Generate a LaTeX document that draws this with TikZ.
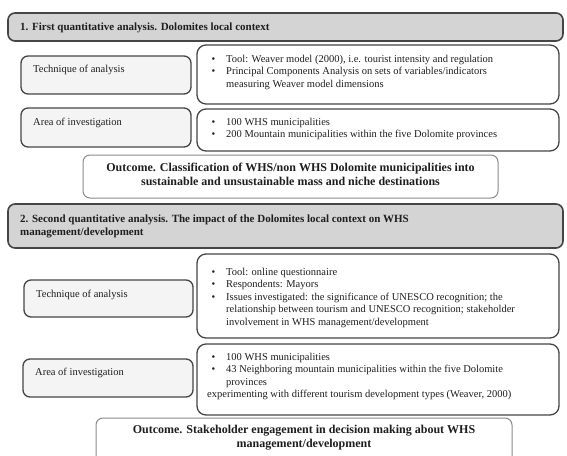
\documentclass[tikz,border=0pt]{standalone}
\usepackage{fontspec}
\setmainfont{Liberation Serif}
\usepackage{array}
\definecolor{hdrfill}{HTML}{D4D4D4}
\definecolor{lfill}{HTML}{F4F4F4}
\definecolor{bord}{HTML}{454545}
\definecolor{obord}{HTML}{8A8A8A}
\definecolor{txt}{HTML}{1E1E1E}
\newcommand{\bodyfont}{\fontsize{10.5}{12.5}\selectfont}
\newcommand{\hdrfont}{\fontsize{11}{13}\selectfont\bfseries}
\newcommand{\outfont}{\fontsize{12}{14}\selectfont\bfseries}
\newcommand{\bul}{\hspace*{4.5pt}\textbullet}
\tikzset{
  hdrbox/.style={draw=bord, line width=1.6pt, fill=hdrfill, rounded corners=7pt, inner sep=0pt},
  leftbox/.style={draw=bord, line width=1.3pt, fill=lfill, rounded corners=7pt, inner sep=0pt},
  rightbox/.style={draw=bord, line width=1.3pt, fill=white, rounded corners=9pt, inner sep=0pt},
  outbox/.style={draw=obord, line width=1pt, fill=white, rounded corners=7pt, inner sep=0pt},
  lbl/.style={inner sep=0pt, text=txt, font=\bodyfont},
  hdr/.style={inner sep=0pt, text=txt, font=\hdrfont, align=left},
  lst/.style={inner sep=0pt, text=txt, font=\bodyfont, anchor=north west},
  outtxt/.style={inner sep=0pt, text=txt, font=\outfont, align=center},
}
\begin{document}
\begin{tikzpicture}[x=1pt, y=-1pt]
\useasboundingbox (0,0) rectangle (567,455);
\clip (0,0) rectangle (567,455);
% ---------- section 1
\node[hdrbox, minimum width=555pt, minimum height=28pt] (h1) at (285.5,27) {};
\node[hdr, anchor=base west] (h1t) at (20,30.5) {1. First quantitative analysis. Dolomites local context};

\node[leftbox, minimum width=170pt, minimum height=38pt] (t1) at (106,75) {};
\node[lbl, anchor=base west] (t1t) at (33,72) {Technique of analysis};
\node[rightbox, minimum width=362pt, minimum height=59pt] (r1) at (378,74.5) {};
\node[lst] (r1t) at (207,53.25) {\begin{tabular}{@{}p{19pt}@{}l@{}}
\bul & Tool: Weaver model (2000), i.e. tourist intensity and regulation\\
\bul & Principal Components Analysis on sets of variables/indicators\\
 & measuring Weaver model dimensions
\end{tabular}};

\node[leftbox, minimum width=170pt, minimum height=39pt] (a1) at (106,127.5) {};
\node[lbl, anchor=base west] (a1t) at (33,125) {Area of investigation};
\node[rightbox, minimum width=362pt, minimum height=42pt] (r2) at (378,130) {};
\node[lst] (r2t) at (207,116.5) {\begin{tabular}{@{}p{19pt}@{}l@{}}
\bul & 100 WHS municipalities\\
\bul & 200 Mountain municipalities within the five Dolomite provinces
\end{tabular}};

\node[outbox, minimum width=415pt, minimum height=43pt] (o1) at (290.5,176.5) {};
\node[outtxt, anchor=base] (o1t) at (290.5,171) {Outcome. Classification of WHS/non WHS Dolomite municipalities into};
\node[outtxt, anchor=base] (o1t2) at (290.5,185) {sustainable and unsustainable mass and niche destinations};

% ---------- section 2
\node[hdrbox, minimum width=555pt, minimum height=44pt] (h2) at (285.5,226) {};
\node[hdr, anchor=base west] (h2t) at (20,222) {2. Second quantitative analysis. The impact of the Dolomites local context on WHS};
\node[hdr, anchor=base west] (h2t2) at (20,235) {management/development};

\node[leftbox, minimum width=169pt, minimum height=37pt] (t2) at (108.5,298.5) {};
\node[lbl, anchor=base west] (t2t) at (36,297) {Technique of analysis};
\node[rightbox, minimum width=362pt, minimum height=84pt] (r3) at (378,296) {};
\node[lst] (r3t) at (207,266.25) {\begin{tabular}{@{}p{19pt}@{}l@{}}
\bul & Tool: online questionnaire\\
\bul & Respondents: Mayors\\
\bul & Issues investigated: the significance of UNESCO recognition; the\\
 & relationship between tourism and UNESCO recognition; stakeholder\\
 & involvement in WHS management/development
\end{tabular}};

\node[leftbox, minimum width=170pt, minimum height=38pt] (a2) at (108,378) {};
\node[lbl, anchor=base west] (a2t) at (35,375) {Area of investigation};
\node[rightbox, minimum width=362pt, minimum height=71pt] (r4) at (378,379.5) {};
\node[lst] (r4t) at (207,351.25) {\begin{tabular}{@{}p{19pt}@{}l@{}}
\bul & 100 WHS municipalities\\
\bul & 43 Neighboring mountain municipalities within the five Dolomite\\
 & provinces\\
\multicolumn{2}{@{}l@{}}{experimenting with different tourism development types (Weaver, 2000)}
\end{tabular}};

\node[outbox, minimum width=416pt, minimum height=60pt] (o2) at (304,448) {};
\node[outtxt, anchor=base] (o2t) at (304,433) {Outcome. Stakeholder engagement in decision making about WHS};
\node[outtxt, anchor=base] (o2t2) at (304,447) {management/development};
\end{tikzpicture}
\end{document}
